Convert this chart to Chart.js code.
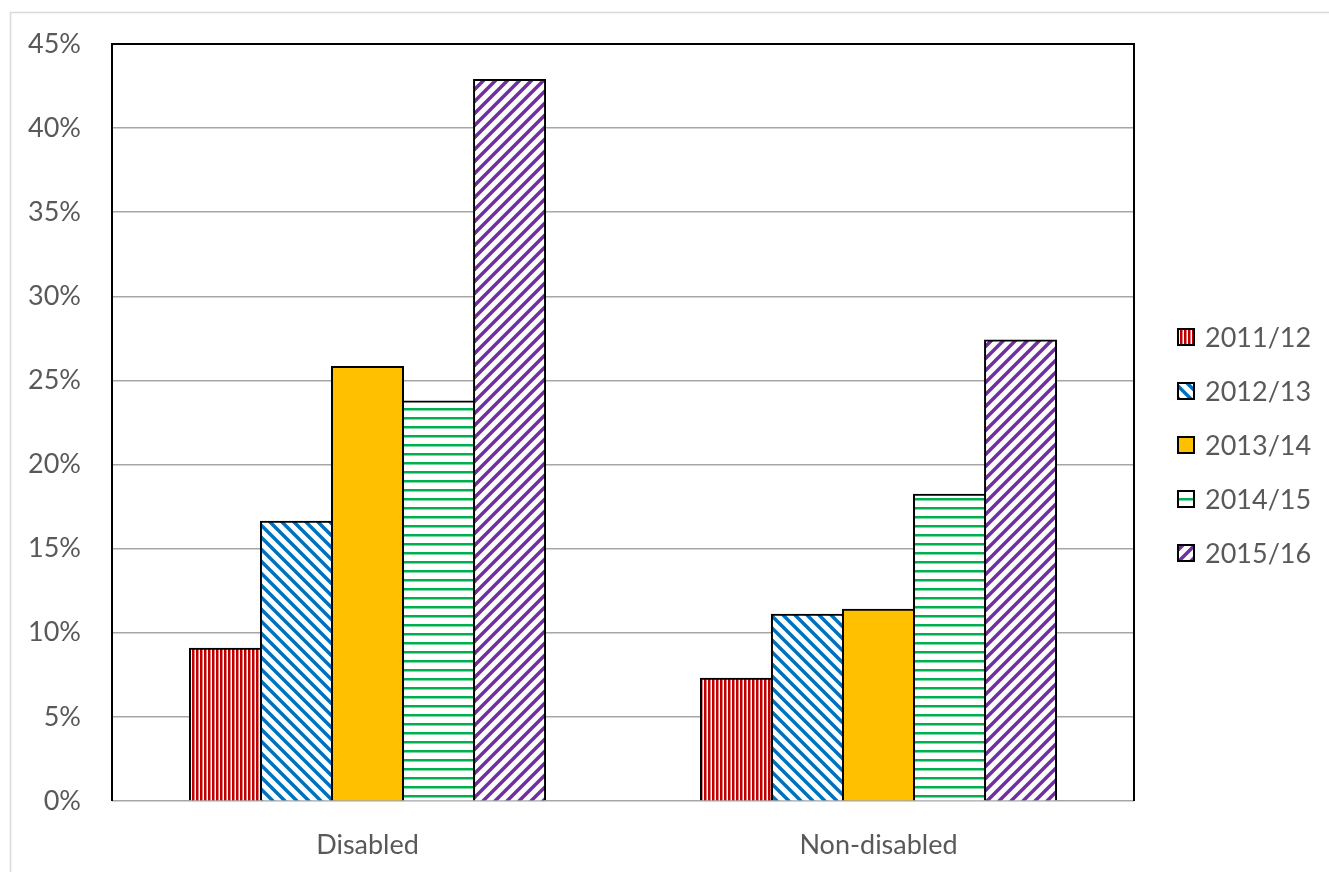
<!DOCTYPE html>
<html>
<head>
<meta charset="utf-8">
<script src="https://cdn.jsdelivr.net/npm/chart.js@4"></script>
<style>
    html, body { margin: 0; padding: 0; background: #fff; }
    #wrap { position: absolute; left: 0; top: 0; width: 1329px; height: 872px; }
</style>
</head>
<body>
<div id="wrap"><canvas id="chart" width="1329" height="872"></canvas></div>
<script>
// Chart data (percent)
const categories = ['Disabled', 'Non-disabled'];
const seriesLabels = ['2011/12', '2012/13', '2013/14', '2014/15', '2015/16'];
const values2011 = [9.05, 7.26];
const values2012 = [16.6, 11.07];
const values2013 = [25.8, 11.37];
const values2014 = [23.75, 18.2];
const values2015 = [42.86, 27.38];
const yTicks = [0, 5, 10, 15, 20, 25, 30, 35, 40, 45];

const FONT = 'Lato, "Open Sans", sans-serif';
const TEXT = '#595959';

// Build the hatch fills on small canvases
function makePattern(size, color, draw) {
    const c = document.createElement('canvas');
    c.width = size;
    c.height = size;
    const g = c.getContext('2d');
    g.fillStyle = '#fff';
    g.fillRect(0, 0, size, size);
    g.fillStyle = color;
    g.strokeStyle = color;
    draw(g, size);
    return document.getElementById('chart').getContext('2d').createPattern(c, 'repeat');
}

const redFill = makePattern(4, '#c00000', (g) => {
    g.fillRect(0, 0, 2.5, 4);
});
const blueFill = makePattern(12, '#0070c0', (g, s) => {
    g.lineWidth = 3.5;
    g.beginPath();
    g.moveTo(-2, -2); g.lineTo(s + 2, s + 2);
    g.moveTo(-s - 2, -2); g.lineTo(2, s + 2);
    g.moveTo(s - 2, -2); g.lineTo(2 * s + 2, s + 2);
    g.stroke();
});
const greenFill = makePattern(9, '#00b050', (g) => {
    g.fillRect(0, 3, 9, 2.5);
});
const purpleFill = makePattern(12, '#7030a0', (g, s) => {
    g.lineWidth = 3.5;
    g.beginPath();
    g.moveTo(-2, s + 2); g.lineTo(s + 2, -2);
    g.moveTo(-s - 2, s + 2); g.lineTo(2, -2);
    g.moveTo(s - 2, s + 2); g.lineTo(2 * s + 2, -2);
    g.stroke();
});

const fills = [redFill, blueFill, '#ffc000', greenFill, purpleFill];
const seriesValues = [values2011, values2012, values2013, values2014, values2015];

// Outer frame, plot border and legend
const framePlugin = {
    id: 'frame',
    beforeDraw(chart) {
        const ctx = chart.ctx;
        ctx.save();
        ctx.fillStyle = '#fff';
        ctx.fillRect(0, 0, chart.width, chart.height);
        ctx.strokeStyle = '#d9d9d9';
        ctx.lineWidth = 1.5;
        ctx.beginPath();
        ctx.moveTo(10.5, chart.height + 2);
        ctx.lineTo(10.5, 12.5);
        ctx.lineTo(chart.width + 2, 12.5);
        ctx.stroke();
        ctx.restore();
    },
    afterDraw(chart) {
        const ctx = chart.ctx;
        const a = chart.chartArea;
        ctx.save();
        ctx.strokeStyle = '#000';
        ctx.lineWidth = 2;
        ctx.beginPath();
        ctx.moveTo(a.left, a.bottom);
        ctx.lineTo(a.left, a.top);
        ctx.lineTo(a.right, a.top);
        ctx.lineTo(a.right, a.bottom);
        ctx.stroke();

        // legend
        ctx.font = '27px ' + FONT;
        ctx.textBaseline = 'middle';
        chart.data.datasets.forEach((ds, i) => {
            const cy = 337 + i * 54;
            ctx.fillStyle = ds.backgroundColor;
            ctx.fillRect(1178, cy - 8, 16, 16);
            ctx.strokeStyle = '#000';
            ctx.lineWidth = 2;
            ctx.strokeRect(1178, cy - 8, 16, 16);
            ctx.fillStyle = TEXT;
            ctx.fillText(ds.label, 1205, cy + 1);
        });
        ctx.restore();
    }
};

new Chart(document.getElementById('chart'), {
    type: 'bar',
    data: {
        labels: categories,
        datasets: seriesLabels.map((label, i) => ({
            label: label,
            data: seriesValues[i],
            backgroundColor: fills[i],
            borderColor: '#000',
            borderWidth: 2,
            inflateAmount: 1,
            barPercentage: 1,
            categoryPercentage: 0.695
        }))
    },
    options: {
        responsive: false,
        animation: false,
        layout: { padding: { top: 44, right: 195, left: 0, bottom: 0 } },
        plugins: {
            legend: { display: false },
            tooltip: { enabled: false }
        },
        scales: {
            x: {
                grid: { display: false, drawTicks: false },
                border: { display: false },
                ticks: { color: TEXT, font: { size: 27, family: FONT }, padding: 28 },
                afterFit: (s) => { s.height = 71; s.paddingLeft = 0; s.paddingRight = 0; }
            },
            y: {
                min: yTicks[0],
                max: yTicks[yTicks.length - 1],
                afterBuildTicks: (s) => { s.ticks = yTicks.map(v => ({ value: v })); },
                grid: { color: '#a6a6a6', lineWidth: 1.5, drawTicks: false },
                border: { display: false },
                ticks: {
                    color: TEXT,
                    font: { size: 27, family: FONT },
                    padding: 31,
                    callback: (v) => v + '%'
                },
                afterFit: (s) => { s.width = 112; s.paddingTop = 0; s.paddingBottom = 0; }
            }
        }
    },
    plugins: [framePlugin]
});
</script>
</body>
</html>
